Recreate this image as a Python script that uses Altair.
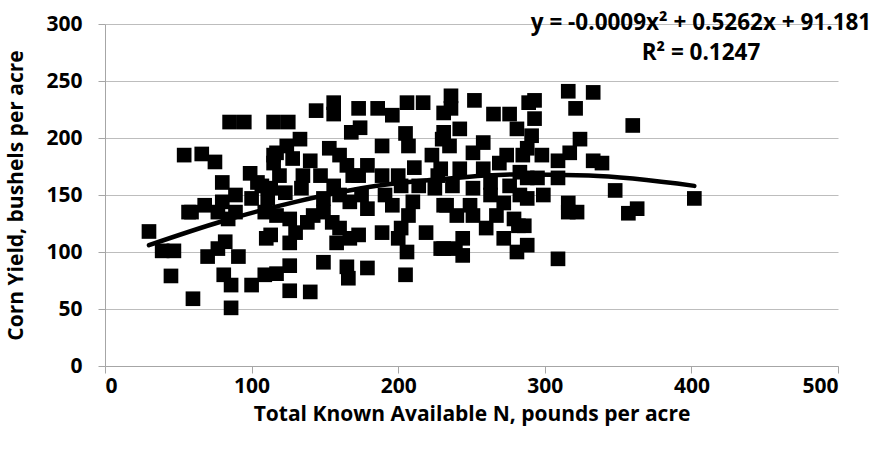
import altair as alt
import pandas as pd

# Total Known Available N (lb/acre) and corn yield (bu/acre)
n_avail = [30, 39, 47, 45, 54, 57, 60,
           85, 95, 115, 66, 75, 115,
           80, 99, 107, 89, 80, 68, 59, 77, 89, 100, 109, 111, 84, 104,
           110, 82, 77, 70, 91, 81, 86, 100, 109, 86,
           125, 133, 144, 156, 156, 173, 168,
           117, 124, 115, 128, 140, 153, 160, 165, 169, 119, 135, 147, 156, 113, 123, 134, 149, 160, 167,
           117, 126, 138, 149, 155, 160, 167, 158, 113, 130, 142,
           126, 149, 165, 166, 126, 117, 126, 140,
           186, 196, 206, 217, 231, 174, 189, 205, 207, 230, 179, 173, 189, 200, 211, 223, 227, 175, 191,
           202, 214, 225, 179, 196, 210, 231, 207, 202, 189, 173, 219, 200, 206, 229, 179, 205,
           236, 236, 252, 265, 276, 289, 281, 231, 242, 235, 251, 258, 274, 285, 229, 242, 258, 269, 283,
           237, 251, 263, 276, 233, 249, 263, 272, 283, 240, 251, 267, 279, 260, 272, 282, 281, 244, 231,
           244, 239,
           293, 316, 333, 321, 293, 291, 324, 298, 288, 309, 317, 333, 339, 288, 295, 309, 348, 288, 299,
           316, 322, 316, 286, 288, 309,
           360, 363, 357, 402]
corn_yield = [118, 101, 101, 79, 185, 135, 59,
              214, 214, 214, 186, 179, 185,
              161, 169, 158, 150, 144, 141, 135, 135, 135, 147, 135, 147, 129, 161,
              112, 109, 103, 96, 96, 80, 71, 71, 80, 51,
              214, 199, 224, 231, 221, 226, 205,
              187, 193, 178, 182, 180, 191, 185, 176, 167, 167, 167, 167, 158, 156, 152, 156, 147, 150, 144,
              132, 129, 126, 135, 126, 121, 112, 108, 115, 117, 132,
              108, 91, 87, 77, 88, 81, 66, 65,
              226, 220, 231, 231, 222, 209, 193, 204, 193, 199, 176, 167, 167, 167, 174, 185, 167, 150, 150,
              158, 158, 156, 138, 141, 144, 141, 132, 121, 117, 115, 117, 112, 100, 103, 86, 80,
              237, 226, 233, 221, 221, 231, 208, 205, 208, 193, 187, 196, 185, 185, 173, 173, 173, 178, 170,
              158, 156, 161, 158, 141, 141, 150, 143, 150, 132, 132, 132, 129, 121, 112, 123, 100, 112, 103,
              97, 103,
              233, 241, 240, 226, 217, 202, 199, 185, 191, 180, 187, 180, 178, 165, 165, 165, 154, 147, 150,
              143, 135, 135, 123, 106, 94,
              211, 138, 134, 147]

# Polynomial trendline
trend_x = [30, 80, 130, 180, 230, 280, 330, 402]
trend_y = [106, 127, 144, 157, 164, 168, 167, 158]

equation = "y = -0.0009x\u00b2 + 0.5262x + 91.181\nR\u00b2 = 0.1247"

pts = pd.DataFrame({"n": n_avail, "yield": corn_yield})
trend = pd.DataFrame({"n": trend_x, "yield": trend_y})
eq = pd.DataFrame({"label": [equation]})

FONT = "Open Sans"

x_scale = alt.Scale(domain=[0, 500], nice=False)
y_scale = alt.Scale(domain=[0, 300], nice=False)

x_axis = alt.Axis(values=[0, 100, 200, 300, 400, 500], grid=False,
                  title="Total Known Available N, pounds per acre",
                  labelPadding=2, titlePadding=7)
y_axis = alt.Axis(values=[0, 50, 100, 150, 200, 250, 300], grid=True,
                  title="Corn Yield, bushels per acre",
                  labelPadding=16, titlePadding=19)

points = alt.Chart(pts).mark_point(shape="square", filled=True, size=215,
                                   color="black", opacity=1).encode(
    x=alt.X("n:Q", scale=x_scale, axis=x_axis),
    y=alt.Y("yield:Q", scale=y_scale, axis=y_axis),
)

line = alt.Chart(trend).mark_line(color="black", strokeWidth=4.5,
                                  strokeCap="round", interpolate="monotone").encode(
    x=alt.X("n:Q", scale=x_scale),
    y=alt.Y("yield:Q", scale=y_scale),
)

text = alt.Chart(eq).mark_text(font=FONT, fontSize=22.5, fontWeight="bold",
                               color="black", align="center", baseline="middle",
                               lineBreak="\n", lineHeight=30).encode(
    x=alt.value(596),
    y=alt.value(-1),
    text="label:N",
)

chart = alt.layer(points, line, text).properties(
    width=733, height=342,
    autosize=alt.AutoSizeParams(type="none"),
    padding={"left": 105, "top": 24, "right": 39, "bottom": 85},
).configure_view(stroke=None).configure_axis(
    labelFont=FONT, labelFontSize=21, labelFontWeight="bold", labelColor="black",
    titleFont=FONT, titleFontSize=21, titleFontWeight="bold", titleColor="black",
    domainColor="#a6a6a6", tickColor="#a6a6a6", gridColor="#bdbdbd",
    tickSize=7,
)

chart.save("out.html", embed_options={"renderer": "svg", "actions": False})
